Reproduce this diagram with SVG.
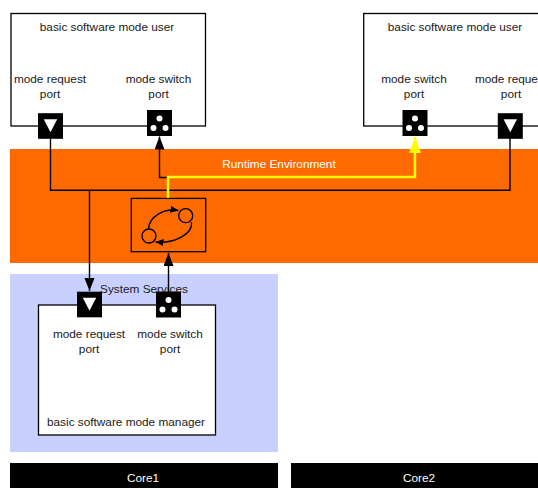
<svg xmlns="http://www.w3.org/2000/svg" width="538" height="488" viewBox="0 0 538 488">
<defs>
<style>
text{font-family:"Liberation Sans",Arial,sans-serif;font-size:11.8px;fill:#1a1a1a;text-anchor:middle}
.box{fill:#fff;stroke:#000;stroke-width:1.3}
.line{fill:none;stroke:#000;stroke-width:1.4}
.wt{fill:#fff}
</style>
<marker id="ah" markerUnits="userSpaceOnUse" markerWidth="14" markerHeight="12" refX="13" refY="5" orient="auto"><path d="M0 0L13 5L0 10Z" fill="#000"/></marker>
<marker id="ahy" markerUnits="userSpaceOnUse" markerWidth="17" markerHeight="14" refX="16" refY="6" orient="auto"><path d="M0 0L16 6L0 12Z" fill="#ff0"/></marker>
<marker id="sm" markerUnits="userSpaceOnUse" markerWidth="9" markerHeight="8" refX="8" refY="3.500" orient="auto"><path d="M0 0L8 3.500L0 7Z" fill="#000"/></marker>
<g id="req"><rect x="-12.500" y="-12.800" width="25" height="25.600" fill="#000"/><path d="M-6.700 -6.700H6.700L0 6.300Z" fill="#fff"/></g>
<g id="sw"><rect x="-12.500" y="-13" width="25" height="26" fill="#000"/><circle cx="0" cy="-4.500" r="3" fill="#fff"/><circle cx="-6" cy="5" r="3" fill="#fff"/><circle cx="6" cy="5" r="3" fill="#fff"/></g>
</defs>
<rect width="538" height="488" fill="#fff"/>
<g id="rte"><rect x="10" y="149" width="528" height="114" fill="#ff6a00"/><text x="279" y="168" class="wt">Runtime Environment</text></g>
<g id="system-services"><rect x="10" y="274" width="268" height="178" fill="#c8d0ff"/><text x="144" y="293">System Services</text></g>
<g id="core1"><rect x="10" y="463" width="268" height="25" fill="#000"/><text x="143" y="482" class="wt">Core1</text></g>
<g id="core2"><rect x="291" y="463" width="247" height="25" fill="#000"/><text x="419" y="482" class="wt">Core2</text></g>
<g id="user1"><rect x="11" y="13.500" width="194.500" height="112.500" class="box"/>
<text x="107" y="31">basic software mode user</text><text x="50" y="83">mode request</text><text x="50" y="98">port</text><text x="158.500" y="83">mode switch</text><text x="158.500" y="98">port</text></g>
<g id="user2"><rect x="363.700" y="13.500" width="185" height="112.500" class="box"/>
<text x="455" y="31">basic software mode user</text><text x="414" y="83">mode switch</text><text x="414" y="98">port</text><text x="511" y="83">mode request</text><text x="511" y="98">port</text></g>
<g id="manager"><rect x="38.500" y="305" width="177" height="130" class="box"/>
<text x="89" y="338">mode request</text><text x="89" y="353">port</text><text x="170" y="338">mode switch</text><text x="170" y="353">port</text><text x="126" y="426">basic software mode manager</text></g>
<g id="state-machine"><rect x="131.300" y="198.400" width="74.400" height="53.300" fill="none" stroke="#000" stroke-width="1.300"/>
<circle cx="185.700" cy="215.700" r="7" fill="none" stroke="#000" stroke-width="1.300"/><circle cx="149" cy="236" r="7" fill="none" stroke="#000" stroke-width="1.300"/>
<path d="M148.500 229C149 217 163 208 178.500 210.500" class="line" marker-end="url(#sm)"/><path d="M191.500 222C193 234 175 243.500 155.500 242" class="line" marker-end="url(#sm)"/></g>
<g id="connectors">
<path d="M50.500 138V190.300H510V138" class="line"/>
<path d="M89.500 190.300V291" class="line" marker-end="url(#ah)"/>
<path d="M168 177.500H159.500V136.500" class="line" marker-end="url(#ah)"/>
<path d="M168 198V177H415V137" fill="none" stroke="#ff0" stroke-width="2.500" marker-end="url(#ahy)"/>
<path d="M168.500 292V253" class="line" marker-end="url(#ah)"/>
</g>
<g id="port-user1-req"><use href="#req" x="50.500" y="126"/></g>
<g id="port-user1-sw"><use href="#sw" x="159.500" y="123"/></g>
<g id="port-user2-sw"><use href="#sw" x="415" y="123"/></g>
<g id="port-user2-req"><use href="#req" x="510.300" y="126"/></g>
<g id="port-mgr-req"><use href="#req" x="89.500" y="304.500"/></g>
<g id="port-mgr-sw"><use href="#sw" x="168.500" y="304.500"/></g>
</svg>
